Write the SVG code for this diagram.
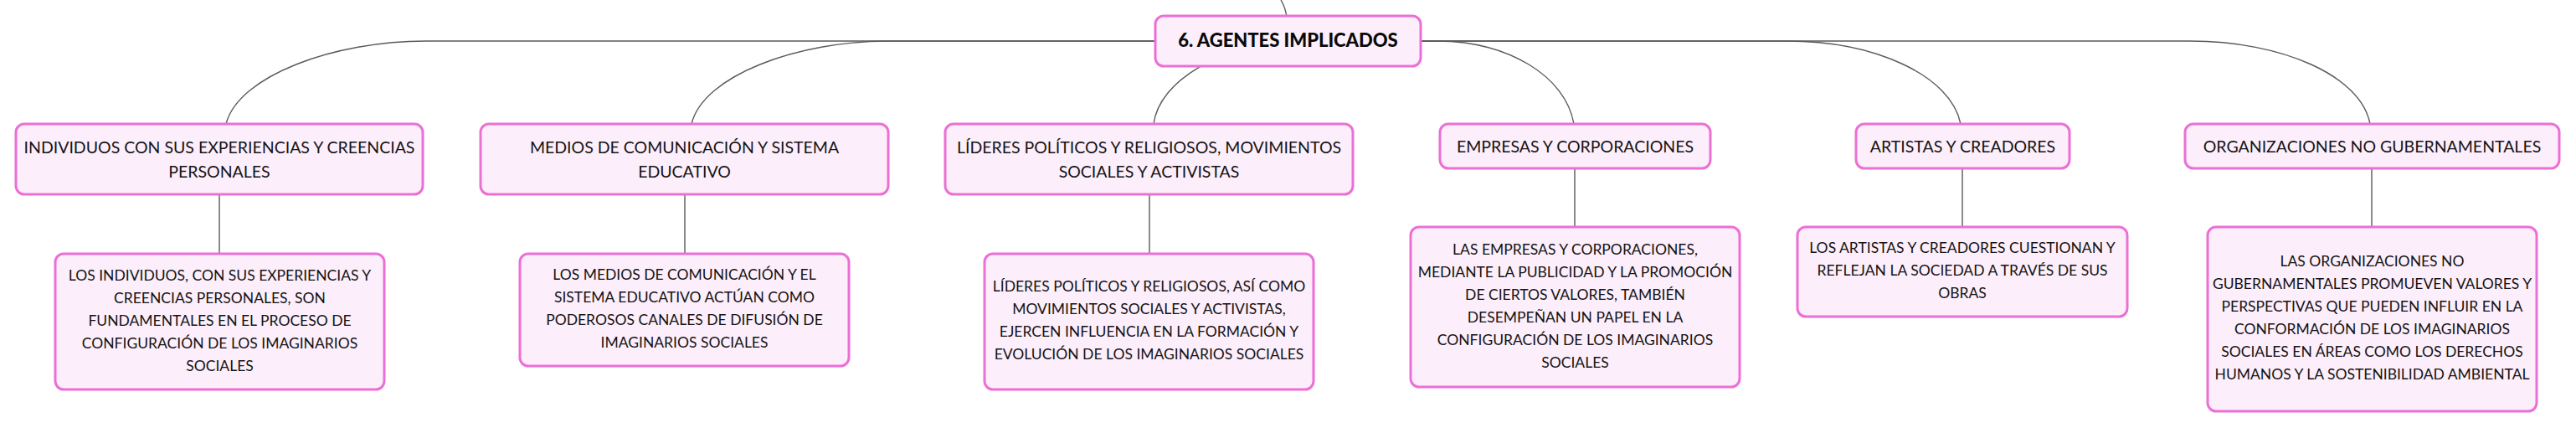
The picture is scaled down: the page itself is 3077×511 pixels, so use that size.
<svg xmlns="http://www.w3.org/2000/svg" width="3077" height="511" viewBox="0 0 3077 511">
<style>
.box{fill:#fdeefb;stroke:#ec6fd5;stroke-width:3}
.t{font-family:Lato,"Open Sans","Liberation Sans",sans-serif;font-size:19.5px;fill:#141414;text-anchor:middle}
.s{font-family:Lato,"Open Sans","Liberation Sans",sans-serif;font-size:17.5px;fill:#141414;text-anchor:middle}
.c{font-family:Lato,"Open Sans","Liberation Sans",sans-serif;font-size:22px;font-weight:900;fill:#0a0a0a;text-anchor:middle}
.ln{fill:none;stroke:#5a5a5a;stroke-width:1.4}
</style>
<g id="connectors">
<path class="ln" d="M1537,20 Q1535,8 1530,0"/>
<path class="ln" d="M1380,49 H509 C400,49 285,90 270,148"/>
<path class="ln" d="M1380,49 H1062 C953,49 840,90 826,148"/>
<path class="ln" d="M1538,49 C1460,55 1385,95 1378,148"/>
<path class="ln" d="M1697,49 H1716 C1800,49 1870,90 1880,148"/>
<path class="ln" d="M1697,49 H2134 C2240,49 2330,90 2342,148"/>
<path class="ln" d="M1697,49 H2616 C2725,49 2820,90 2831,148"/>
<path class="ln" d="M262,232 V303"/>
<path class="ln" d="M818,232 V303"/>
<path class="ln" d="M1373,232 V303"/>
<path class="ln" d="M1881,201 V271"/>
<path class="ln" d="M2344,201 V271"/>
<path class="ln" d="M2833,201 V271"/>
</g>
<g id="center">
<rect class="box" x="1380" y="19" width="317" height="60" rx="10"/>
<text class="c" x="1538.5" y="56">6. AGENTES IMPLICADOS</text>
</g>
<g id="n1">
<rect class="box" x="19" y="148" width="486" height="84" rx="10"/>
<text class="t" x="262" y="183">INDIVIDUOS CON SUS EXPERIENCIAS Y CREENCIAS</text>
<text class="t" x="262" y="212">PERSONALES</text>
</g>
<g id="n1c">
<rect class="box" x="66" y="303" width="393" height="162" rx="10"/>
<text class="s" x="262.5" y="335">LOS INDIVIDUOS, CON SUS EXPERIENCIAS Y</text>
<text class="s" x="262.5" y="362">CREENCIAS PERSONALES, SON</text>
<text class="s" x="262.5" y="389">FUNDAMENTALES EN EL PROCESO DE</text>
<text class="s" x="262.5" y="416">CONFIGURACIÓN DE LOS IMAGINARIOS</text>
<text class="s" x="262.5" y="443">SOCIALES</text>
</g>
<g id="n2">
<rect class="box" x="574" y="148" width="487" height="84" rx="10"/>
<text class="t" x="817.5" y="183">MEDIOS DE COMUNICACIÓN Y SISTEMA</text>
<text class="t" x="817.5" y="212">EDUCATIVO</text>
</g>
<g id="n2c">
<rect class="box" x="621" y="303" width="393" height="134" rx="10"/>
<text class="s" x="817.5" y="334">LOS MEDIOS DE COMUNICACIÓN Y EL</text>
<text class="s" x="817.5" y="361">SISTEMA EDUCATIVO ACTÚAN COMO</text>
<text class="s" x="817.5" y="388">PODEROSOS CANALES DE DIFUSIÓN DE</text>
<text class="s" x="817.5" y="415">IMAGINARIOS SOCIALES</text>
</g>
<g id="n3">
<rect class="box" x="1129" y="148" width="487" height="84" rx="10"/>
<text class="t" x="1372.5" y="183">LÍDERES POLÍTICOS Y RELIGIOSOS, MOVIMIENTOS</text>
<text class="t" x="1372.5" y="212">SOCIALES Y ACTIVISTAS</text>
</g>
<g id="n3c">
<rect class="box" x="1176" y="303" width="393" height="162" rx="10"/>
<text class="s" x="1372.5" y="348">LÍDERES POLÍTICOS Y RELIGIOSOS, ASÍ COMO</text>
<text class="s" x="1372.5" y="375">MOVIMIENTOS SOCIALES Y ACTIVISTAS,</text>
<text class="s" x="1372.5" y="402">EJERCEN INFLUENCIA EN LA FORMACIÓN Y</text>
<text class="s" x="1372.5" y="429">EVOLUCIÓN DE LOS IMAGINARIOS SOCIALES</text>
</g>
<g id="n4">
<rect class="box" x="1720" y="148" width="323" height="53" rx="10"/>
<text class="t" x="1881.5" y="182">EMPRESAS Y CORPORACIONES</text>
</g>
<g id="n4c">
<rect class="box" x="1685" y="271" width="393" height="191" rx="10"/>
<text class="s" x="1881.5" y="304">LAS EMPRESAS Y CORPORACIONES,</text>
<text class="s" x="1881.5" y="331">MEDIANTE LA PUBLICIDAD Y LA PROMOCIÓN</text>
<text class="s" x="1881.5" y="358">DE CIERTOS VALORES, TAMBIÉN</text>
<text class="s" x="1881.5" y="385">DESEMPEÑAN UN PAPEL EN LA</text>
<text class="s" x="1881.5" y="412">CONFIGURACIÓN DE LOS IMAGINARIOS</text>
<text class="s" x="1881.5" y="439">SOCIALES</text>
</g>
<g id="n5">
<rect class="box" x="2217" y="148" width="255" height="53" rx="10"/>
<text class="t" x="2344.5" y="182">ARTISTAS Y CREADORES</text>
</g>
<g id="n5c">
<rect class="box" x="2147" y="271" width="394" height="107" rx="10"/>
<text class="s" x="2344" y="302">LOS ARTISTAS Y CREADORES CUESTIONAN Y</text>
<text class="s" x="2344" y="329">REFLEJAN LA SOCIEDAD A TRAVÉS DE SUS</text>
<text class="s" x="2344" y="356">OBRAS</text>
</g>
<g id="n6">
<rect class="box" x="2610" y="148" width="447" height="53" rx="10"/>
<text class="t" x="2833.5" y="182">ORGANIZACIONES NO GUBERNAMENTALES</text>
</g>
<g id="n6c">
<rect class="box" x="2637" y="271" width="393" height="220" rx="10"/>
<text class="s" x="2833.5" y="318">LAS ORGANIZACIONES NO</text>
<text class="s" x="2833.5" y="345">GUBERNAMENTALES PROMUEVEN VALORES Y</text>
<text class="s" x="2833.5" y="372">PERSPECTIVAS QUE PUEDEN INFLUIR EN LA</text>
<text class="s" x="2833.5" y="399">CONFORMACIÓN DE LOS IMAGINARIOS</text>
<text class="s" x="2833.5" y="426">SOCIALES EN ÁREAS COMO LOS DERECHOS</text>
<text class="s" x="2833.5" y="453">HUMANOS Y LA SOSTENIBILIDAD AMBIENTAL</text>
</g>
</svg>
